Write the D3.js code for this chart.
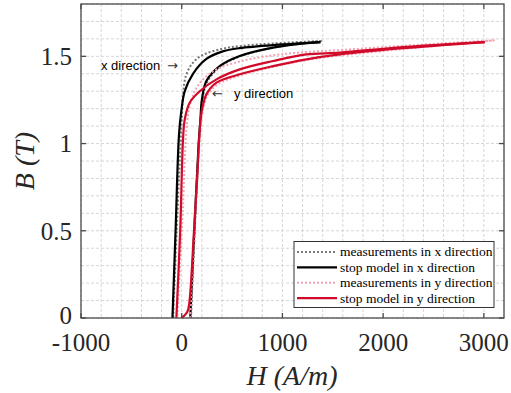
<!DOCTYPE html>
<html><head><meta charset="utf-8">
<script src="https://cdn.jsdelivr.net/npm/d3@7"></script>
<style>body{margin:0;background:#fff}svg{display:block}</style>
</head><body>
<svg id="c" width="511" height="393"></svg>
<script>
// ---- data: [H (A/m), B (T)] along each loop (ascending branch then descending) ----
const xMeasAsc  = [[92,0],[130,0.5],[172,1.0],[192,1.15],[208,1.25],[250,1.35],[380,1.44],[580,1.50],[907,1.55],[1390,1.588]];
const xMeasDesc = [[1390,1.588],[907,1.574],[600,1.56],[400,1.543],[200,1.505],[100,1.455],[40,1.385],[15,1.29],[2,1.16],[-15,0.95],[-50,0.5],[-85,0]];
const xModelAsc = [[85,0],[125,0.5],[168,1.0],[185,1.13],[200,1.25],[245,1.358],[377,1.444],[576,1.502],[907,1.55],[1150,1.57],[1377,1.582]];
const xModelDesc= [[1377,1.582],[1000,1.568],[576,1.547],[400,1.527],[245,1.485],[112,1.40],[30,1.30],[-3,1.19],[-27,1.05],[-61,0.5],[-92,0]];
const yMeasAsc  = [[85,0],[125,0.5],[170,0.95],[190,1.1],[215,1.2],[260,1.28],[360,1.34],[580,1.39],[907,1.44],[1238,1.478],[1569,1.505],[2165,1.54],[3108,1.592]];
const yMeasDesc = [[3108,1.592],[2165,1.559],[1569,1.536],[1172,1.522],[900,1.505],[609,1.475],[345,1.425],[212,1.368],[129,1.30],[79,1.214],[47,1.08],[10,0.6],[-45,0]];
const yModelAsc = [[0,0],[55,0.035],[74,0.08],[122,0.5],[155,0.82],[179,1.08],[196,1.176],[245,1.282],[345,1.349],[576,1.397],[907,1.444],[1238,1.483],[1569,1.511],[2165,1.545],[3009,1.582]];
const yModelDesc= [[3009,1.582],[2165,1.552],[1569,1.521],[1238,1.511],[907,1.473],[576,1.425],[345,1.368],[179,1.30],[79,1.234],[30,1.138],[13,1.023],[-15,0.5],[-53,0]];

const xTicks = [-1000,0,1000,2000,3000];
const yTicks = [0,0.5,1,1.5];
const xMinor = d3.range(-1000,3201,200);
const yMinor = d3.range(0,1.81,0.1);
const legendLabels = ["measurements in x direction","stop model in x direction","measurements in y direction","stop model in y direction"];
const xLabel = "H (A/m)", yLabel = "B (T)";
const noteX = "x direction", noteY = "y direction";

// ---- layout ----
const L=81, R=504, T=4, B=318;
const x = d3.scaleLinear().domain([-1000,3200]).range([L,R]);
const y = d3.scaleLinear().domain([0,1.8]).range([B,T]);
const svg = d3.select("#c");

// grid
const g = svg.append("g");
g.selectAll(".vx").data(xMinor).join("line")
  .attr("x1",d=>x(d)).attr("x2",d=>x(d)).attr("y1",T).attr("y2",B)
  .attr("stroke","#d6d6d6").attr("stroke-width",1).attr("stroke-dasharray","3,2");
g.selectAll(".hy").data(yMinor).join("line")
  .attr("y1",d=>y(d)).attr("y2",d=>y(d)).attr("x1",L).attr("x2",R)
  .attr("stroke","#d6d6d6").attr("stroke-width",1).attr("stroke-dasharray","3,2");

// curves
const line = d3.line().x(d=>x(d[0])).y(d=>y(d[1])).curve(d3.curveCatmullRom.alpha(0.5));
const series = [
  {asc:xMeasAsc, desc:xMeasDesc, color:"#777777", dash:"2,2", w:2},
  {asc:xModelAsc, desc:xModelDesc, color:"#000000", dash:null, w:2.2},
  {asc:yMeasAsc, desc:yMeasDesc, color:"#f4a3b3", dash:"2,2", w:2},
  {asc:yModelAsc, desc:yModelDesc, color:"#d20a2a", dash:null, w:2.2}
];
const cg = svg.append("g");
series.forEach(s=>{
  [s.asc, s.desc].forEach(br=>{
    cg.append("path").attr("d",line(br)).attr("fill","none")
      .attr("stroke",s.color).attr("stroke-width",s.w)
      .attr("stroke-dasharray",s.dash);
  });
});

// frame + ticks
const ax = svg.append("g").attr("stroke","#4a4a4a");
ax.append("rect").attr("x",L).attr("y",T).attr("width",R-L).attr("height",B-T)
  .attr("fill","none").attr("stroke-width",1.3);
xTicks.forEach(v=>{
  ax.append("line").attr("x1",x(v)).attr("x2",x(v)).attr("y1",B).attr("y2",B-5).attr("stroke-width",1.3);
  ax.append("line").attr("x1",x(v)).attr("x2",x(v)).attr("y1",T).attr("y2",T+5).attr("stroke-width",1.3);
});
yTicks.forEach(v=>{
  ax.append("line").attr("y1",y(v)).attr("y2",y(v)).attr("x1",L).attr("x2",L+5).attr("stroke-width",1.3);
  ax.append("line").attr("y1",y(v)).attr("y2",y(v)).attr("x1",R).attr("x2",R-5).attr("stroke-width",1.3);
});

const serif = "'Liberation Serif','Times New Roman',serif";
svg.append("g").selectAll("text").data(xTicks).join("text")
  .attr("x",d=>x(d)).attr("y",351).attr("text-anchor","middle")
  .attr("font-family",serif).attr("font-size",25).attr("fill","#262626")
  .text(d=>String(d));
svg.append("g").selectAll("text").data(yTicks).join("text")
  .attr("x",72).attr("y",d=>y(d)).attr("dy",d=>d===0?"0.25em":"0.35em").attr("text-anchor","end")
  .attr("font-family",serif).attr("font-size",25).attr("fill","#262626")
  .text(d=>String(d));

svg.append("text").attr("x",292).attr("y",385).attr("text-anchor","middle")
  .attr("font-family",serif).attr("font-style","italic").attr("font-size",28).attr("fill","#262626")
  .text(xLabel);
svg.append("text").attr("transform","translate(34,161) rotate(-90)").attr("text-anchor","middle")
  .attr("font-family",serif).attr("font-style","italic").attr("font-size",28).attr("fill","#262626")
  .text(yLabel);

// annotations
const sans = "'Liberation Sans',Arial,sans-serif";
const arrowFont = "'DejaVu Sans',sans-serif";
svg.append("text").attr("x",101).attr("y",69.5).attr("font-family",sans).attr("font-size",13).attr("fill","#000")
  .text(noteX);
svg.append("text").attr("x",167).attr("y",69.5).attr("font-family",arrowFont).attr("font-size",13).attr("fill","#333")
  .text("\u2192");
svg.append("text").attr("x",212).attr("y",98).attr("font-family",arrowFont).attr("font-size",13).attr("fill","#333")
  .text("\u2190");
svg.append("text").attr("x",234).attr("y",98).attr("font-family",sans).attr("font-size",13).attr("fill","#000")
  .text(noteY);

// legend
const lg = svg.append("g");
lg.append("rect").attr("x",294).attr("y",241.5).attr("width",200).attr("height",66)
  .attr("fill","#fff").attr("stroke","#333").attr("stroke-width",1);
legendLabels.forEach((t,i)=>{
  const yy = 252 + i*15.4;
  const s = series[i];
  lg.append("line").attr("x1",297).attr("x2",337).attr("y1",yy).attr("y2",yy)
    .attr("stroke",s.color).attr("stroke-width",s.w).attr("stroke-dasharray",s.dash);
  lg.append("text").attr("x",340).attr("y",yy).attr("dy","0.32em")
    .attr("font-family",serif).attr("font-size",13.5).attr("fill","#000").text(t);
});
</script>
</body></html>
